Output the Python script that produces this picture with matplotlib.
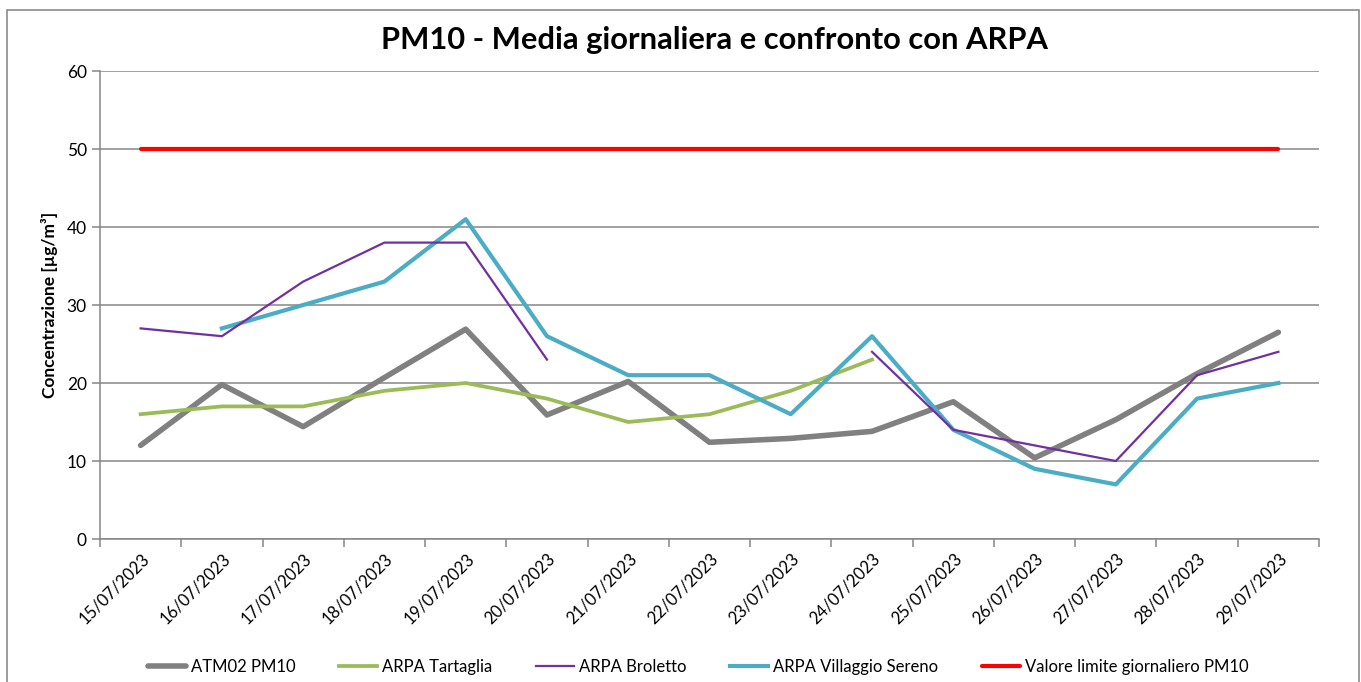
import matplotlib.pyplot as plt
import numpy as np
from matplotlib.patches import Rectangle

nan = np.nan

dates = ['15/07/2023', '16/07/2023', '17/07/2023', '18/07/2023', '19/07/2023',
         '20/07/2023', '21/07/2023', '22/07/2023', '23/07/2023', '24/07/2023',
         '25/07/2023', '26/07/2023', '27/07/2023', '28/07/2023', '29/07/2023']

atm02 = [12.0, 19.8, 14.4, 20.7, 26.9, 15.9, 20.2, 12.4, 12.9, 13.8,
         17.6, 10.4, 15.3, 21.2, 26.5]
tartaglia = [16, 17, 17, 19, 20, 18, 15, 16, 19, 23,
             nan, nan, nan, nan, nan]
broletto = [27, 26, 33, 38, 38, 23, nan, nan, nan, 24,
            14, 12, 10, 21, 24]
villaggio = [nan, 27, 30, 33, 41, 26, 21, 21, 16, 26,
             14, 9, 7, 18, 20]
limite = [50] * 15

plt.rcParams['font.family'] = ['Lato', 'DejaVu Sans']

fig = plt.figure(figsize=(13.61, 6.82), dpi=100)
fig.patches.append(Rectangle((7 / 1361, -0.05), 1352 / 1361, 1.05 - 10 / 682,
                             transform=fig.transFigure, fill=False,
                             edgecolor='#8c8c8c', linewidth=1.2))

ax = fig.add_axes([100 / 1361, 1 - 539 / 682, 1219 / 1361, 468 / 682])

x = np.arange(len(dates))
ax.plot(x, atm02, color='#808080', lw=4.0, label='ATM02 PM10', solid_capstyle='round', zorder=3)
ax.plot(x, tartaglia, color='#9BBB59', lw=2.7, label='ARPA Tartaglia', zorder=4)
ax.plot(x, broletto, color='#7030A0', lw=1.6, label='ARPA Broletto', zorder=5)
ax.plot(x, villaggio, color='#4BACC6', lw=3.0, label='ARPA Villaggio Sereno', zorder=4)
ax.plot(x, limite, color='#FF0000', lw=3.0, label='Valore limite giornaliero PM10',
        solid_capstyle='round', zorder=3)

ax.set_xlim(-0.5, len(dates) - 0.5)
ax.set_ylim(0, 60)
ax.set_yticks(range(0, 61, 10))
ax.grid(axis='y', color='#868686', lw=1.1)
ax.set_axisbelow(True)

ax.set_xticks(x)
ax.set_xticklabels(dates, rotation=45, ha='right', rotation_mode='anchor', fontsize=12)
ax.set_xticks(np.arange(-0.5, len(dates), 1), minor=True)
ax.tick_params(axis='x', which='major', length=0, pad=8)
ax.tick_params(axis='x', which='minor', length=6, color='#868686', width=1.1)
ax.tick_params(axis='y', length=6, color='#868686', width=1.1, labelsize=12.5)

for s in ['top', 'right']:
    ax.spines[s].set_visible(False)
for s in ['left', 'bottom']:
    ax.spines[s].set_color('#868686')
    ax.spines[s].set_linewidth(1.1)

ax.set_ylabel('Concentrazione [µg/m³]', fontsize=12.5, fontweight='bold', labelpad=6)

fig.text(0.525, 1 - 40 / 682, 'PM10 - Media giornaliera e confronto con ARPA',
         ha='center', va='center', fontsize=22.2, fontweight='bold')

fig.legend(loc='center', bbox_to_anchor=(0.513, 1 - 667 / 682), ncol=5, frameon=False,
           fontsize=12, handlelength=2.3, columnspacing=2.6, handletextpad=0.3)

fig.savefig('out.png', dpi=100)
